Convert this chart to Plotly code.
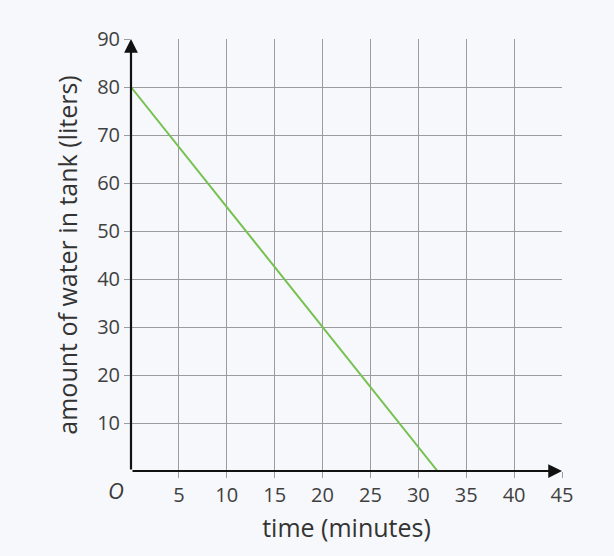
import plotly.graph_objects as go

# data
time_min = [0, 32]
water_liters = [80, 0]

x_ticks = [5, 10, 15, 20, 25, 30, 35, 40, 45]
y_ticks = [10, 20, 30, 40, 50, 60, 70, 80, 90]

bg = '#f7f8fb'
grid = '#9c9c9c'
tick_font = dict(family='Open Sans', size=20, color='#404040')
title_font = dict(family='Open Sans', size=25, color='#333')

fig = go.Figure()
fig.add_trace(go.Scatter(x=time_min, y=water_liters, mode='lines',
                         line=dict(color='#74c14f', width=2),
                         hoverinfo='skip', showlegend=False))

# axis arrows
fig.add_annotation(x=45, y=0, ax=0, ay=0, xref='x', yref='y', axref='x', ayref='y',
                   text='', showarrow=True, arrowhead=2, arrowsize=1.25,
                   arrowwidth=2.2, arrowcolor='#111')
fig.add_annotation(x=0, y=90, ax=0, ay=0, xref='x', yref='y', axref='x', ayref='y',
                   text='', showarrow=True, arrowhead=2, arrowsize=1.25,
                   arrowwidth=2.2, arrowcolor='#111')
fig.add_annotation(x=0, y=0, xref='x', yref='y', text='<i>O</i>', showarrow=False,
                   xanchor='right', yanchor='top', xshift=-5, yshift=-2,
                   font=dict(family='Open Sans', size=22, color='#3a3a3a'))

fig.update_xaxes(range=[0, 45], tickvals=x_ticks, showgrid=True, gridcolor=grid,
                 gridwidth=1.2, zeroline=False, showline=False,
                 ticks='outside', ticklen=6, tickcolor=grid, tickfont=tick_font,
                 title=dict(text='time (minutes)', standoff=12, font=title_font))
fig.update_yaxes(range=[0, 90], tickvals=y_ticks, showgrid=True, gridcolor=grid,
                 gridwidth=1.2, zeroline=False, showline=False,
                 ticks='outside', ticklen=6, tickcolor=grid, tickfont=tick_font,
                 title=dict(text='amount of water in tank (liters)', standoff=12,
                            font=title_font))

fig.update_layout(width=614, height=556, paper_bgcolor=bg, plot_bgcolor=bg,
                  margin=dict(l=131, r=52, t=39, b=85))

fig.write_html('out.html', config={'displayModeBar': False},
               post_script="document.body.style.margin='0';"
                           "document.body.style.background='#f7f8fb';")
